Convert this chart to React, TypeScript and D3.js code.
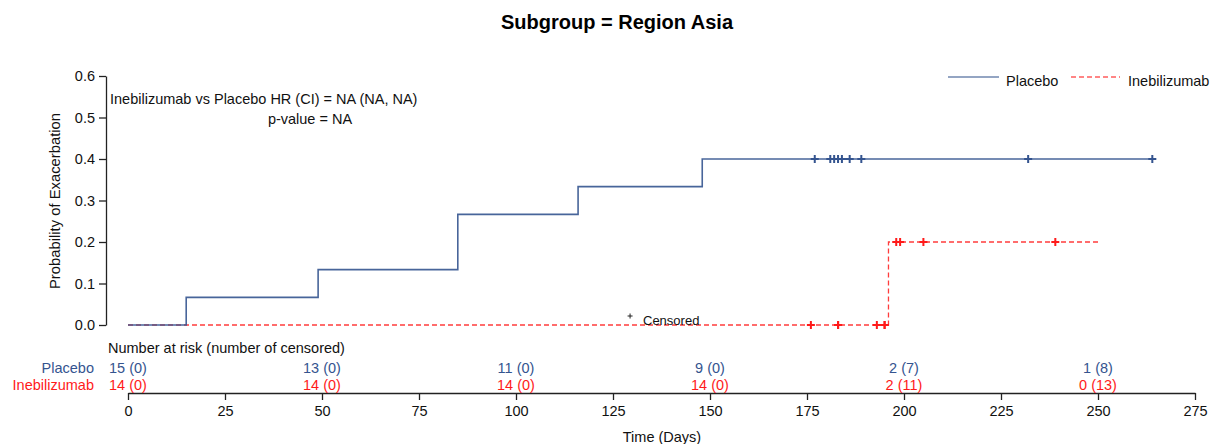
import React, { useRef, useEffect } from 'react';
import * as d3 from 'd3';

// Kaplan-Meier input (days)
const placeboN = 15;
const placeboEventTimes = [15, 49, 85, 85, 116, 148];
const placeboCensorTimes = [177, 181, 182, 183, 184, 186, 189, 232, 264];
const placeboLastTime = 264;

const inebN = 14;
const inebEventTimes = [196];
const inebCensorTimes = [176, 183, 183, 183, 183, 183, 193, 195, 195, 198, 199, 205, 239];
const inebLastTime = 250;

// Number at risk table
const riskTimes = [0, 50, 100, 150, 200, 250];
const placeboAtRisk = [15, 13, 11, 9, 2, 1];
const placeboCensored = [0, 0, 0, 0, 7, 8];
const inebAtRisk = [14, 14, 14, 14, 2, 0];
const inebCensored = [0, 0, 0, 0, 11, 13];

const xTicks = [0, 25, 50, 75, 100, 125, 150, 175, 200, 225, 250, 275];
const yTicks = [0, 0.1, 0.2, 0.3, 0.4, 0.5, 0.6];

const BLUE = '#34548f';
const RED = '#ff1a1a';
const FONT = '"Liberation Sans", Arial, sans-serif';

// cumulative incidence (1 - KM) steps
function kmSteps(n: number, events: number[], censors: number[], last: number) {
  const times = Array.from(new Set(events)).sort((a, b) => a - b);
  let atRisk = n;
  let surv = 1;
  const pts: [number, number][] = [[0, 0]];
  let prevCens = 0;
  times.forEach(t => {
    const c = censors.filter(x => x < t).length;
    atRisk -= c - prevCens;
    prevCens = c;
    const d = events.filter(x => x === t).length;
    pts.push([t, 1 - surv]);
    surv *= (atRisk - d) / atRisk;
    atRisk -= d;
    pts.push([t, 1 - surv]);
  });
  pts.push([last, 1 - surv]);
  const probAt = (t: number) => {
    let p = 0;
    pts.forEach(([tt, v]) => { if (tt <= t) p = v; });
    return p;
  };
  return { pts, probAt };
}

const App = () => {
  const ref = useRef<SVGSVGElement>(null);

  useEffect(() => {
    const svg = d3.select(ref.current);
    svg.selectAll('*').remove();

    const x = d3.scaleLinear().domain([0, 275]).range([128, 1195]);
    const y = d3.scaleLinear().domain([0, 0.6]).range([325, 76]);

    // title
    svg.append('text')
      .attr('x', 617).attr('y', 28.5)
      .attr('text-anchor', 'middle')
      .style('font', `bold 20px ${FONT}`)
      .text('Subgroup = Region Asia');

    // y axis
    const yAxis = svg.append('g').attr('transform', 'translate(106,0)')
      .call(d3.axisLeft(y).tickValues(yTicks).tickFormat(d3.format('.1f')).tickSize(7).tickSizeOuter(0));
    yAxis.select('.domain').attr('stroke', '#222').attr('stroke-width', 1.3);
    yAxis.selectAll('.tick line').attr('stroke', '#222').attr('stroke-width', 1.3);
    yAxis.selectAll('.tick text').attr('x', -11).attr('fill', '#111').style('font', `14.5px ${FONT}`);

    svg.append('text')
      .attr('transform', 'translate(60,201) rotate(-90)')
      .attr('text-anchor', 'middle')
      .style('font', `14.8px ${FONT}`)
      .attr('fill', '#111')
      .text('Probability of Exacerbation');

    // x axis
    const xAxis = svg.append('g').attr('transform', 'translate(0,393)')
      .call(d3.axisBottom(x).tickValues(xTicks).tickSize(7).tickSizeOuter(0));
    xAxis.select('.domain').attr('stroke', '#222').attr('stroke-width', 1.3);
    xAxis.selectAll('.tick line').attr('stroke', '#222').attr('stroke-width', 1.3);
    xAxis.selectAll('.tick text').attr('y', 13).attr('fill', '#111').style('font', `14.5px ${FONT}`);

    svg.append('text')
      .attr('x', 662).attr('y', 442)
      .attr('text-anchor', 'middle')
      .style('font', `14.5px ${FONT}`)
      .attr('fill', '#111')
      .text('Time (Days)');

    // HR annotation
    svg.append('text')
      .attr('x', 110).attr('y', 104)
      .style('font', `14.5px ${FONT}`)
      .attr('fill', '#111')
      .text('Inebilizumab vs Placebo HR (CI) = NA (NA, NA)');
    svg.append('text')
      .attr('x', 310).attr('y', 124)
      .attr('text-anchor', 'middle')
      .style('font', `14.5px ${FONT}`)
      .attr('fill', '#111')
      .text('p-value = NA');

    const line = d3.line<[number, number]>()
      .x(d => x(d[0]))
      .y(d => y(d[1]));

    const plac = kmSteps(placeboN, placeboEventTimes, placeboCensorTimes, placeboLastTime);
    const ineb = kmSteps(inebN, inebEventTimes, inebCensorTimes, inebLastTime);

    const drawCensor = (times: number[], probAt: (t: number) => number, color: string) => {
      times.forEach(t => {
        const cx = x(t), cy = y(probAt(t));
        svg.append('path')
          .attr('d', `M${cx - 4},${cy}H${cx + 4}M${cx},${cy - 4}V${cy + 4}`)
          .attr('stroke', color)
          .attr('stroke-width', 2);
      });
    };

    // Inebilizumab (dashed red)
    svg.append('path')
      .attr('d', line(ineb.pts))
      .attr('fill', 'none')
      .attr('stroke', RED)
      .attr('stroke-width', 1.3)
      .attr('stroke-dasharray', '5,3')
      .attr('opacity', 0.85);
    drawCensor(inebCensorTimes, ineb.probAt, RED);

    // Placebo (solid blue)
    svg.append('path')
      .attr('d', line(plac.pts))
      .attr('fill', 'none')
      .attr('stroke', BLUE)
      .attr('stroke-width', 1.6)
      .attr('opacity', 0.9);
    drawCensor(placeboCensorTimes, plac.probAt, BLUE);

    // censored legend
    const lx = x(129.4), ly = 316;
    svg.append('path')
      .attr('d', `M${lx - 2.5},${ly}H${lx + 2.5}M${lx},${ly - 2.5}V${ly + 2.5}`)
      .attr('stroke', '#222').attr('stroke-width', 1);
    svg.append('text')
      .attr('x', 643).attr('y', 325)
      .style('font', `13px ${FONT}`)
      .attr('fill', '#111')
      .text('Censored');

    // legend
    svg.append('line').attr('x1', 948).attr('x2', 999).attr('y1', 77).attr('y2', 77)
      .attr('stroke', BLUE).attr('stroke-width', 1.6).attr('opacity', 0.7);
    svg.append('text').attr('x', 1006).attr('y', 86)
      .style('font', `14.5px ${FONT}`).attr('fill', '#111').text('Placebo');
    svg.append('line').attr('x1', 1071).attr('x2', 1120).attr('y1', 77).attr('y2', 77)
      .attr('stroke', RED).attr('stroke-width', 1.3).attr('stroke-dasharray', '5,3').attr('opacity', 0.7);
    svg.append('text').attr('x', 1128).attr('y', 86)
      .style('font', `14.5px ${FONT}`).attr('fill', '#111').text('Inebilizumab');

    // number at risk
    svg.append('text')
      .attr('x', 108).attr('y', 353)
      .style('font', `14.5px ${FONT}`)
      .attr('fill', '#111')
      .text('Number at risk (number of censored)');

    const rows = [
      { name: 'Placebo', color: BLUE, yPos: 373, atRisk: placeboAtRisk, cens: placeboCensored },
      { name: 'Inebilizumab', color: RED, yPos: 390, atRisk: inebAtRisk, cens: inebCensored },
    ];
    rows.forEach(r => {
      svg.append('text')
        .attr('x', 94).attr('y', r.yPos)
        .attr('text-anchor', 'end')
        .style('font', `14.5px ${FONT}`)
        .attr('fill', r.color)
        .text(r.name);
      svg.selectAll(null)
        .data(riskTimes)
        .enter()
        .append('text')
        .attr('x', d => x(d))
        .attr('y', r.yPos)
        .attr('text-anchor', 'middle')
        .style('font', `14.5px ${FONT}`)
        .attr('fill', r.color)
        .text((d, i) => `${r.atRisk[i]} (${r.cens[i]})`);
    });
  }, []);

  return (
    <svg
      ref={ref}
      width={1216}
      height={444}
      style={{ position: 'absolute', left: 0, top: 0, background: '#fff' }}
    />
  );
};

export default App;
